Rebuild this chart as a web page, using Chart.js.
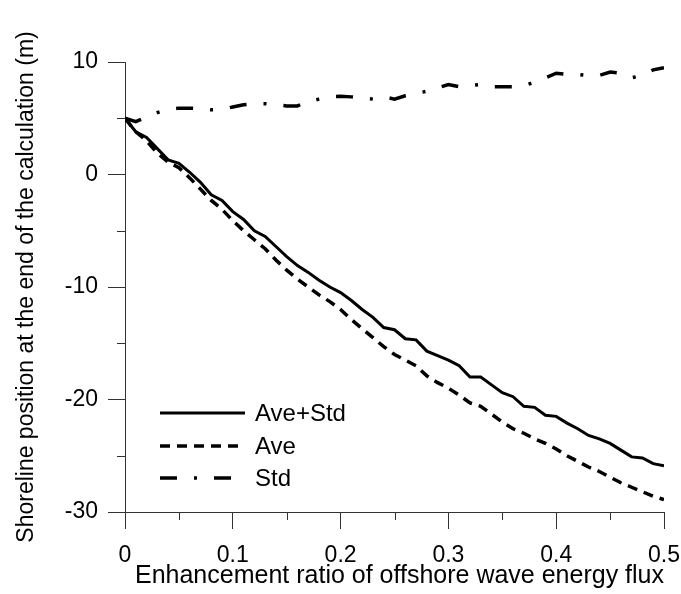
<!DOCTYPE html>
<html>
<head>
<meta charset="utf-8">
<script src="https://cdn.jsdelivr.net/npm/chart.js@4.4.1/dist/chart.umd.min.js"></script>
<style>
html,body{margin:0;padding:0;background:#fff;}
#c{display:block;}
</style>
</head>
<body>
<canvas id="c" width="681" height="594"></canvas>
<script>
// ---- data ----
const ratio = [0,0.01,0.02,0.03,0.04,0.05,0.06,0.07,0.08,0.09,
  0.10,0.11,0.12,0.13,0.14,0.15,0.16,0.17,0.18,0.19,
  0.20,0.21,0.22,0.23,0.24,0.25,0.26,0.27,0.28,0.29,
  0.30,0.31,0.32,0.33,0.34,0.35,0.36,0.37,0.38,0.39,
  0.40,0.41,0.42,0.43,0.44,0.45,0.46,0.47,0.48,0.49,0.50];
const aveStd = [5.0,3.8,3.3,2.3,1.3,1.0,0.2,-0.7,-1.8,-2.3,
  -3.3,-4.0,-5.0,-5.5,-6.4,-7.3,-8.1,-8.7,-9.4,-10.0,
  -10.5,-11.2,-12.0,-12.7,-13.6,-13.8,-14.6,-14.7,-15.7,-16.1,
  -16.5,-17.0,-18.0,-18.0,-18.7,-19.4,-19.75,-20.6,-20.7,-21.4,
  -21.5,-22.1,-22.6,-23.2,-23.5,-23.9,-24.5,-25.1,-25.2,-25.7,-25.9];
const ave = [5.0,3.8,3.0,1.9,1.1,0.6,-0.3,-1.3,-2.3,-3.1,
  -4.1,-5.0,-5.8,-6.6,-7.6,-8.5,-9.3,-10.0,-10.7,-11.3,
  -12.0,-12.9,-13.7,-14.5,-15.3,-16.0,-16.5,-17.0,-17.9,-18.5,
  -19.0,-19.6,-20.3,-20.6,-21.3,-22.0,-22.6,-23.0,-23.5,-23.9,
  -24.4,-25.0,-25.5,-26.0,-26.4,-26.9,-27.4,-27.8,-28.2,-28.6,-28.9];
const std = [5.0,4.7,5.1,5.5,5.8,5.9,5.9,5.85,5.75,5.8,
  6.0,6.2,6.3,6.3,6.2,6.1,6.1,6.5,6.7,6.9,
  6.95,6.9,6.8,6.7,6.9,6.7,7.0,7.2,7.4,7.7,
  8.0,7.8,7.9,8.0,7.8,7.8,7.8,7.9,8.2,8.6,
  9.0,8.9,8.9,8.8,8.8,9.1,9.0,8.6,8.8,9.3,9.5];
const seriesNames = ['Ave+Std','Ave','Std'];
const xTickValues = [0,0.1,0.2,0.3,0.4,0.5];
const xTickLabels = ['0','0.1','0.2','0.3','0.4','0.5'];
const xMinorTicks = [0.05,0.15,0.25,0.35,0.45];
const yTickValues = [-30,-20,-10,0,10];
const yTickLabels = ['-30','-20','-10','0','10'];
const yMinorTicks = [-25,-15,-5,5];
const xTitle = 'Enhancement ratio of offshore wave energy flux';
const yTitle = 'Shoreline position at the end of the calculation (m)';

const FONT = "'Liberation Sans', Arial, sans-serif";
const AXIS = '#333';

function pts(ys){ return ratio.map((x,i)=>({x:x,y:ys[i]})); }

const minorTicks = {
  id:'minorTicks',
  afterDraw(chart){
    const ctx = chart.ctx, xs = chart.scales.x, ys = chart.scales.y;
    ctx.save();
    ctx.strokeStyle = AXIS; ctx.lineWidth = 1;
    ctx.beginPath();
    xMinorTicks.forEach(v=>{ const p = Math.round(xs.getPixelForValue(v))+0.5; ctx.moveTo(p, ys.bottom); ctx.lineTo(p, ys.bottom+8); });
    yMinorTicks.forEach(v=>{ const p = Math.round(ys.getPixelForValue(v))+0.5; ctx.moveTo(xs.left, p); ctx.lineTo(xs.left-8, p); });
    ctx.stroke();
    ctx.restore();
  }
};

const insideLegend = {
  id:'insideLegend',
  afterDraw(chart){
    const ctx = chart.ctx, a = chart.chartArea;
    const rows = [a.bottom-99, a.bottom-66, a.bottom-34];
    ctx.save();
    chart.data.datasets.forEach((ds,i)=>{
      const y = rows[i];
      ctx.strokeStyle = ds.borderColor; ctx.lineWidth = ds.borderWidth;
      ctx.setLineDash(ds.borderDash || []);
      ctx.beginPath(); ctx.moveTo(a.left+35, y); ctx.lineTo(a.left+120, y); ctx.stroke();
      ctx.setLineDash([]);
      ctx.fillStyle = '#000'; ctx.font = "24px " + FONT; ctx.textBaseline = 'middle'; ctx.textAlign = 'left';
      ctx.fillText(ds.label, a.left+130, y+1);
    });
    ctx.restore();
  }
};

new Chart(document.getElementById('c'), {
  type:'line',
  data:{
    datasets:[
      {label:seriesNames[0], data:pts(aveStd), borderColor:'#000', borderWidth:3, borderDash:[], pointRadius:0, tension:0, fill:false},
      {label:seriesNames[1], data:pts(ave), borderColor:'#000', borderWidth:3.5, borderDash:[10,7], pointRadius:0, tension:0, fill:false},
      {label:seriesNames[2], data:pts(std), borderColor:'#000', borderWidth:3.5, borderDash:[17,17,3,17], pointRadius:0, tension:0, fill:false}
    ]
  },
  options:{
    responsive:false, animation:false,
    layout:{padding:{left:0, top:62, right:17, bottom:0}},
    plugins:{legend:{display:false}, tooltip:{enabled:false}},
    scales:{
      x:{type:'linear', min:0, max:0.5,
        afterFit(s){ s.height = 82; s.paddingLeft = 0; s.paddingRight = 0; },
        afterBuildTicks(s){ s.ticks = xTickValues.map(v=>({value:v})); },
        grid:{display:true, drawOnChartArea:false, drawTicks:true, tickLength:17, color:AXIS, tickColor:AXIS, lineWidth:1},
        border:{display:true, color:AXIS, width:1},
        ticks:{padding:13, color:'#000', font:{family:FONT, size:23}, maxRotation:0,
          callback:(v)=>{ const i = xTickValues.findIndex(t=>Math.abs(t-v)<1e-9); return i>=0 ? xTickLabels[i] : ''; }},
        title:{display:true, text:xTitle, align:'end', color:'#000', font:{family:FONT, size:25}, padding:{top:0,bottom:3}}
      },
      y:{type:'linear', min:-30, max:10,
        afterFit(s){ s.width = 125; s.paddingTop = 0; s.paddingBottom = 0; },
        afterBuildTicks(s){ s.ticks = yTickValues.map(v=>({value:v})); },
        grid:{display:true, drawOnChartArea:false, drawTicks:true, tickLength:17, color:AXIS, tickColor:AXIS, lineWidth:1},
        border:{display:true, color:AXIS, width:1},
        ticks:{padding:10, color:'#000', font:{family:FONT, size:23},
          callback:(v)=>{ const i = yTickValues.findIndex(t=>Math.abs(t-v)<1e-9); return i>=0 ? yTickLabels[i] : ''; }},
        title:{display:true, text:yTitle, color:'#000', font:{family:FONT, size:23}, padding:{top:13,bottom:0}}
      }
    }
  },
  plugins:[minorTicks, insideLegend]
});
</script>
</body>
</html>
